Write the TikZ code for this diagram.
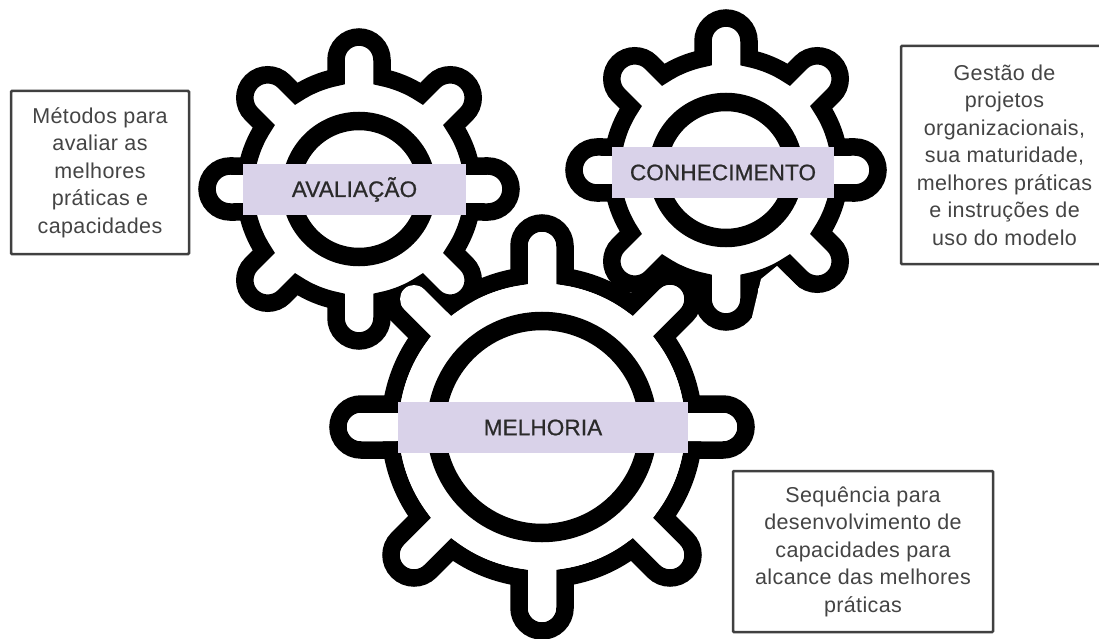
\documentclass[tikz,border=0pt]{standalone}
\usepackage{fontspec}
\setmainfont{Liberation Sans}
\newfontfamily\notefont[LetterSpace=1.8]{Liberation Sans}
\newfontfamily\bandfont[FakeBold=0.8,LetterSpace=0.6]{Liberation Sans}
\usetikzlibrary{calc}
\definecolor{labelfill}{HTML}{D9D2E9}
\definecolor{boxline}{HTML}{404040}
\definecolor{boxtext}{HTML}{444444}
\definecolor{labeltext}{HTML}{2A2A2A}
\tikzset{
  gearline/.style={draw=black,fill=white,line width=17.5pt,miter limit=10},
  gearinner/.style={fill=white,draw=none},
  eraser/.style={fill=white,draw=none},
  ringline/.style={draw=black,fill=white,line width=18.5pt},
  labelband/.style={fill=labelfill,draw=none,font=\bandfont\fontsize{22.5}{26}\selectfont,text=labeltext,anchor=center,inner sep=0pt},
  notebox/.style={draw=boxline,line width=2.5pt,fill=white,rounded corners=1pt,align=center,text=boxtext,font=\notefont\fontsize{21.5}{27.5}\selectfont,inner sep=0pt,anchor=center},
}
% #1 centre, #2 body radius, #3 cap-centre radius, #4 half tooth width, #5 style
\newcommand{\gearshape}[5]{%
  \pgfmathsetmacro{\gd}{asin(#4/#2)}%
  \begin{scope}[shift={#1}]
  \path[#5] ({0-\gd}:#2)
    \foreach \a in {0,45,...,315}{
      -- ($(\a:#3)+(\a-90:#4)$)
      arc[start angle=\a-90,delta angle=180,radius=#4]
      -- ({\a+\gd}:#2)
      arc[start angle=\a+\gd,delta angle=45-2*\gd,radius=#2]
    } -- cycle;
  \end{scope}}
\begin{document}
\begin{tikzpicture}[x=1pt,y=-1pt]
\path[use as bounding box,fill=white] (0,0) rectangle (1099,639);
\clip (0,0) rectangle (1099,639);
% large gear, outline
\gearshape{(542,427)}{152}{181}{23}{gearline}
% small gears
\gearshape{(359,189)}{114}{129}{23}{gearline}
\gearshape{(726,170)}{114}{129}{23}{gearline}
% the outline of the right gear is cut away at its lower right
\path[eraser] (777,266) -- (761,279) -- (752,317) -- (775,345) -- (822,345) -- (822,311) -- cycle;
% large gear, inside laid over the small gears
\gearshape{(542,427)}{143.2}{181}{14}{gearinner}
% rings
\draw[ringline] (359,189) circle[radius=68];
\draw[ringline] (726,170) circle[radius=68];
\draw[ringline] (542,427) circle[radius=106];
% labels
\node[labelband,minimum width=223pt,minimum height=51pt] (aval) at (354.5,189.5) {AVALIAÇÃO};
\node[labelband,minimum width=222pt,minimum height=51pt] (conh) at (723,172.5) {CONHECIMENTO};
\node[labelband,minimum width=290pt,minimum height=51pt] (melh) at (543,427.5) {MELHORIA};
% notes
\node[notebox,minimum width=178pt,minimum height=163pt] (n1) at (100,172.5) {Métodos para\\avaliar as\\melhores\\práticas e\\capacidades};
\node[notebox,minimum width=207pt,minimum height=218pt] (n2) at (1004.5,155) {Gestão de\\projetos\\organizacionais,\\sua maturidade,\\melhores práticas\\e instruções de\\uso do modelo};
\node[notebox,minimum width=260pt,minimum height=161pt] (n3) at (863,551.5) {Sequência para\\desenvolvimento de\\capacidades para\\alcance das melhores\\práticas};
\end{tikzpicture}
\end{document}
